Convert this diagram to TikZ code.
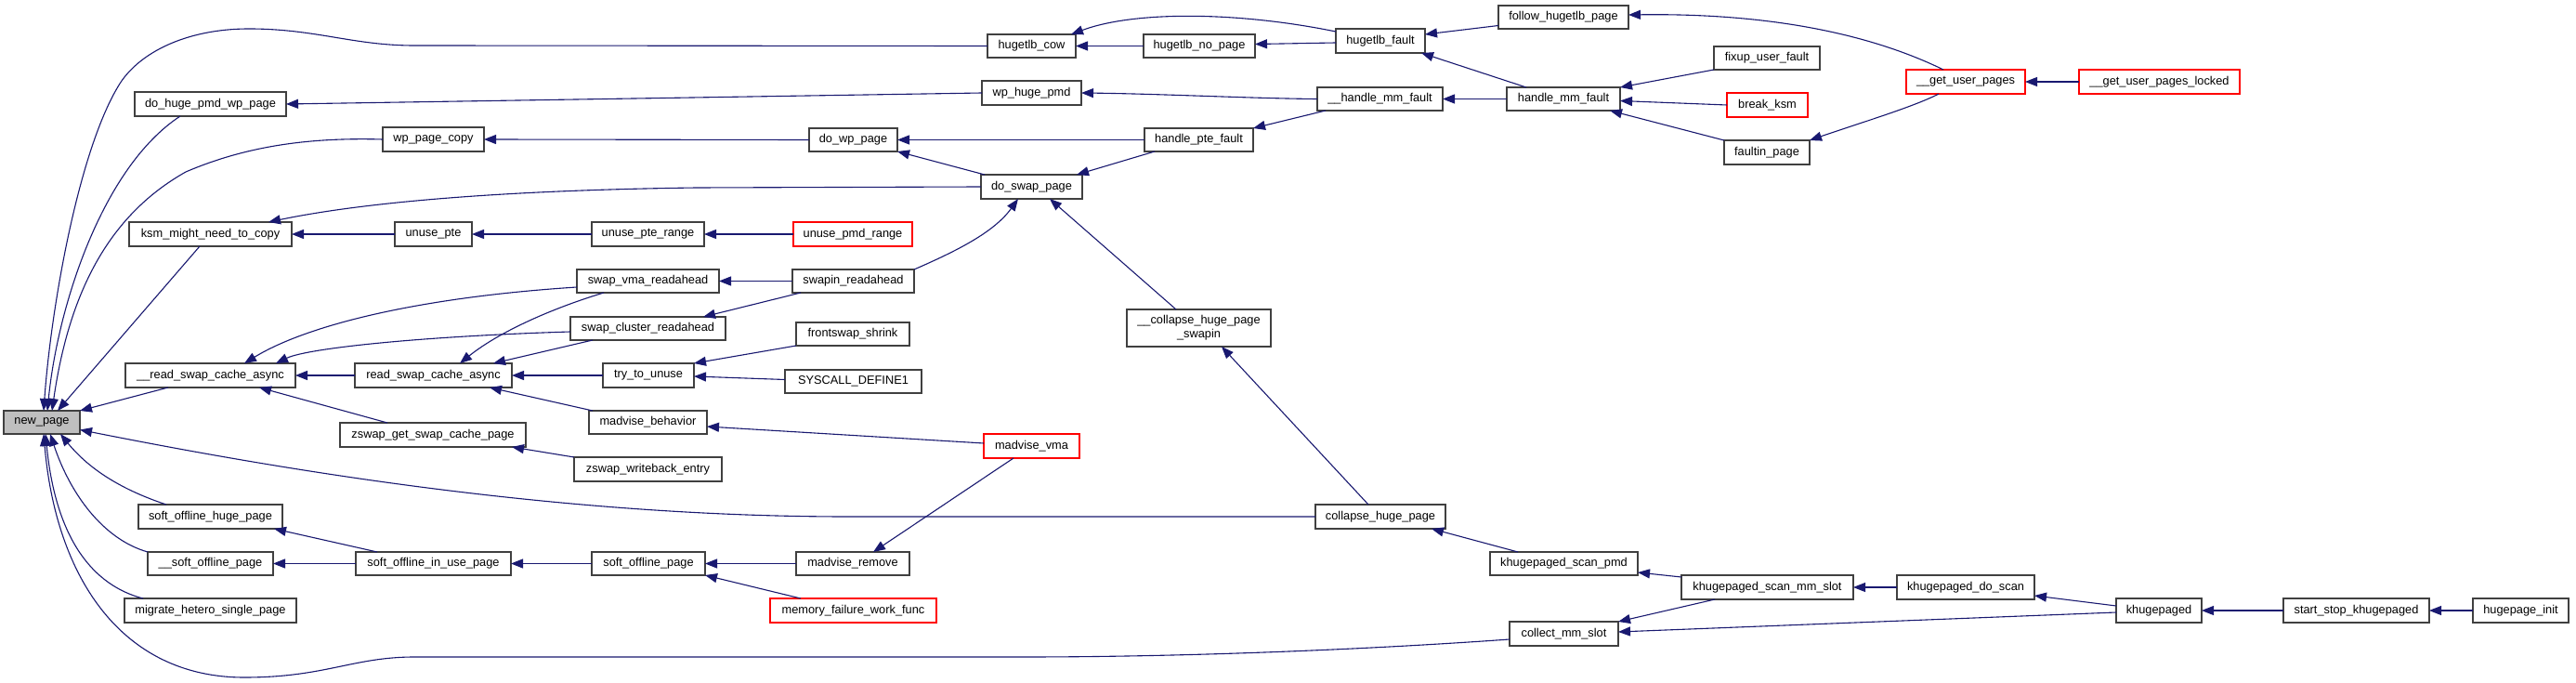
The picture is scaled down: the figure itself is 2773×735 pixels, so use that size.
\documentclass[tikz,border=0pt]{standalone}
\usepackage{fontspec}
\setmainfont{Liberation Sans}
\usetikzlibrary{arrows.meta,calc}
\definecolor{edgec}{HTML}{191970}
\definecolor{boxc}{HTML}{404040}
\definecolor{fillg}{HTML}{BFBFBF}
\tikzset{
 box/.style={draw=boxc, line width=1.2pt, fill=white, inner sep=0pt, outer sep=0pt, font=\fontsize{12.8}{15}\selectfont, align=center},
 redbox/.style={draw=red},
 rootbox/.style={fill=fillg},
 call/.style={draw=edgec, line width=1.1pt, {Triangle[length=13pt,width=10pt]}-}
}
\newcommand{\nbox}[7][]{\node[box,#1,minimum width={(#5-#3)*1pt},minimum height={(#6-#4)*1pt}] (#2) at ({(#3+#5)/2},{(#4+#6)/2}) {#7};}
\begin{document}
\begin{tikzpicture}[x=1pt,y=-1pt]
\fill[white] (0,0) rectangle (2773,735);
\useasboundingbox (0,0) rectangle (2773,735);
% nodes
\nbox[rootbox]{newpage}{4}{442}{86}{467}{new\_page}
\nbox{hcow}{1063}{37}{1158}{62}{hugetlb\_cow}
\nbox{hnopage}{1231}{37}{1351}{62}{hugetlb\_no\_page}
\nbox{hfault}{1438}{31}{1534}{57}{hugetlb\_fault}
\nbox{follow}{1613}{6}{1753}{31}{follow\_hugetlb\_page}
\nbox{fixup}{1845}{50}{1959}{75}{fixup\_user\_fault}
\nbox{hmmf}{1622}{94}{1744}{119}{handle\_mm\_fault}
\nbox{uhmmf}{1418}{94}{1553}{119}{\_\_handle\_mm\_fault}
\nbox[redbox]{breakksm}{1859}{100}{1946}{126}{break\_ksm}
\nbox{faultin}{1856}{151}{1948}{177}{faultin\_page}
\nbox[redbox]{gup}{2052}{75}{2180}{101}{\_\_get\_user\_pages}
\nbox[redbox]{gupl}{2238}{75}{2411}{101}{\_\_get\_user\_pages\_locked}
\nbox{dohuge}{145}{99}{308}{125}{do\_huge\_pmd\_wp\_page}
\nbox{wphuge}{1057}{87}{1164}{113}{wp\_huge\_pmd}
\nbox{wpcopy}{412}{137}{521}{163}{wp\_page\_copy}
\nbox{dowp}{871}{138}{966}{163}{do\_wp\_page}
\nbox{hpte}{1232}{138}{1349}{163}{handle\_pte\_fault}
\nbox{doswap}{1056}{188}{1165}{214}{do\_swap\_page}
\nbox{ksm}{139}{239}{314}{265}{ksm\_might\_need\_to\_copy}
\nbox{unpte}{425}{239}{508}{265}{unuse\_pte}
\nbox{unpter}{637}{239}{758}{265}{unuse\_pte\_range}
\nbox[redbox]{unpmd}{854}{239}{982}{265}{unuse\_pmd\_range}
\nbox{svma}{621}{290}{774}{315}{swap\_vma\_readahead}
\nbox{swapin}{853}{290}{984}{315}{swapin\_readahead}
\nbox{scluster}{614}{341}{781}{366}{swap\_cluster\_readahead}
\nbox{frontswap}{857}{347}{979}{372}{frontswap\_shrink}
\nbox{ucollapse}{1213}{333}{1368}{373}{\_\_collapse\_huge\_page\\\_swapin}
\nbox{uread}{135}{391}{318}{417}{\_\_read\_swap\_cache\_async}
\nbox{read}{382}{391}{551}{417}{read\_swap\_cache\_async}
\nbox{tryun}{649}{391}{747}{417}{try\_to\_unuse}
\nbox{syscall}{845}{398}{992}{423}{SYSCALL\_DEFINE1}
\nbox{madvb}{634}{442}{761}{467}{madvise\_behavior}
\nbox{zswapget}{366}{455}{566}{481}{zswap\_get\_swap\_cache\_page}
\nbox{zswapwb}{618}{492}{777}{518}{zswap\_writeback\_entry}
\nbox[redbox]{madvvma}{1059}{467}{1162}{493}{madvise\_vma}
\nbox{sohp}{149}{543}{304}{569}{soft\_offline\_huge\_page}
\nbox{collapse}{1416}{543}{1556}{569}{collapse\_huge\_page}
\nbox{usop}{159}{594}{294}{619}{\_\_soft\_offline\_page}
\nbox{soiup}{383}{594}{550}{619}{soft\_offline\_in\_use\_page}
\nbox{sop}{637}{594}{759}{619}{soft\_offline\_page}
\nbox{madvrm}{857}{594}{979}{619}{madvise\_remove}
\nbox{kscanpmd}{1604}{594}{1763}{619}{khugepaged\_scan\_pmd}
\nbox{kscanmm}{1810}{619}{1995}{645}{khugepaged\_scan\_mm\_slot}
\nbox{kdoscan}{2042}{619}{2190}{645}{khugepaged\_do\_scan}
\nbox{migrate}{134}{644}{319}{670}{migrate\_hetero\_single\_page}
\nbox[redbox]{mfwf}{829}{644}{1008}{670}{memory\_failure\_work\_func}
\nbox{collect}{1625}{669}{1742}{695}{collect\_mm\_slot}
\nbox{khp}{2278}{644}{2370}{670}{khugepaged}
\nbox{startstop}{2458}{644}{2615}{670}{start\_stop\_khugepaged}
\nbox{hpinit}{2662}{644}{2765}{670}{hugepage\_init}
% edges into new_page
\draw[call] ($(newpage.north west)+(43,0)$) .. controls (55,330) and (85,160) .. (129,90) .. controls (150,57) and (200,31) .. (268,31) .. controls (340,31) and (380,49) .. (446,49) -- (hcow.west);
\draw[call] ($(newpage.north west)+(47,0)$) .. controls (62,330) and (110,180) .. ($(dohuge.south west)+(49,0)$);
\draw[call] ($(newpage.north west)+(52,0)$) .. controls (75,310) and (120,230) .. (200,185) .. controls (270,155) and (340,148) .. (wpcopy.west);
\draw[call] ($(newpage.north west)+(58,0)$) -- ($(ksm.south west)+(76,0)$);
\draw[call] (newpage.north east) -- ($(uread.south west)+(46,0)$);
\draw[call] ($(newpage.east)+(0,8)$) .. controls (300,505) and (600,556) .. (913,556) -- (collapse.west);
\draw[call] ($(newpage.south west)+(61,0)$) .. controls (100,510) and (140,530) .. ($(sohp.north west)+(30,0)$);
\draw[call] ($(newpage.south west)+(50,0)$) .. controls (75,530) and (110,580) .. (usop.north west);
\draw[call] ($(newpage.south west)+(45,0)$) .. controls (60,580) and (100,630) .. ($(migrate.north west)+(20,0)$);
\draw[call] ($(newpage.south west)+(43,0)$) .. controls (60,620) and (130,729) .. (263,729) .. controls (350,729) and (380,707) .. (446,707) -- (1100,707) .. controls (1300,707) and (1500,697) .. ($(collect.west)+(0,6)$);
% upper part
\draw[call] (hcow.east) -- (hnopage.west);
\draw[call] ($(hcow.north east)+(-5,0)$) .. controls (1220,12) and (1330,12) .. ($(hfault.north west)+(0,3)$);
\draw[call] ($(hnopage.east)+(0,-2)$) -- ($(hfault.west)+(0,2)$);
\draw[call] ($(hfault.east)+(0,-7)$) -- ($(follow.west)+(0,9)$);
\draw[call] ($(hfault.south east)+(-4,0)$) -- ($(hmmf.north west)+(21,0)$);
\draw[call] (uhmmf.east) -- (hmmf.west);
\draw[call] (hmmf.north east) -- (fixup.south west);
\draw[call] ($(hmmf.east)+(0,2)$) -- (breakksm.west);
\draw[call] ($(hmmf.south east)+(-11,0)$) -- (faultin.north west);
\draw[call] ($(follow.east)+(0,-2.5)$) .. controls (1900,14) and (2010,35) .. ($(gup.north west)+(40,0)$);
\draw[call] (faultin.north east) .. controls (2000,133) and (2060,115) .. ($(gup.south west)+(35,0)$);
\draw[call] (gup.east) -- (gupl.west);
\draw[call] (wphuge.east) .. controls (1250,101) and (1350,106) .. (uhmmf.west);
\draw[call] (hpte.north east) -- ($(uhmmf.south west)+(9,0)$);
\draw[call] (dowp.east) -- (hpte.west);
\draw[call] ($(doswap.north east)+(-6,0)$) -- ($(hpte.south west)+(11,0)$);
\draw[call] (dowp.south east) -- ($(doswap.north west)+(4,0)$);
\draw[call] (wpcopy.east) -- (dowp.west);
\draw[call] (dohuge.east) -- (wphuge.west);
\draw[call] ($(ksm.north west)+(150,0)$) .. controls (380,220) and (520,205) .. (750,202) -- (doswap.west);
\draw[call] (ksm.east) -- (unpte.west);
\draw[call] (unpte.east) -- (unpter.west);
\draw[call] (unpter.east) -- (unpmd.west);
\draw[call] ($(doswap.south west)+(40,0)$) .. controls (1070,250) and (1030,270) .. (swapin.north east);
\draw[call] ($(doswap.south west)+(74,0)$) -- ($(ucollapse.north west)+(53,0)$);
\draw[call] ($(ucollapse.south west)+(102,0)$) -- ($(collapse.north west)+(57,0)$);
% swap part
\draw[call] (svma.east) -- (swapin.west);
\draw[call] ($(scluster.north east)+(-24,0)$) -- ($(swapin.south west)+(9,0)$);
\draw[call] ($(uread.north west)+(128,0)$) .. controls (330,350) and (450,320) .. ($(svma.west)+(0,6.5)$);
\draw[call] ($(uread.north west)+(162,0)$) .. controls (330,375) and (450,362) .. ($(scluster.west)+(0,3.5)$);
\draw[call] ($(read.north west)+(113,0)$) .. controls (540,355) and (600,330) .. ($(svma.south west)+(29,0)$);
\draw[call] ($(read.north west)+(149,0)$) -- ($(scluster.south west)+(24,0)$);
\draw[call] (uread.east) -- (read.west);
\draw[call] (read.east) -- (tryun.west);
\draw[call] (tryun.north east) -- (frontswap.south west);
\draw[call] ($(tryun.east)+(0,1)$) -- ($(syscall.west)+(0,-2)$);
\draw[call] ($(read.south west)+(145,0)$) -- ($(madvb.north west)+(4,0)$);
\draw[call] ($(madvb.east)+(0,4.5)$) -- ($(madvvma.west)+(0,-3)$);
\draw[call] ($(uread.south west)+(144,0)$) -- ($(zswapget.north west)+(51,0)$);
\draw[call] ($(zswapget.south west)+(185,0)$) -- (zswapwb.north west);
% lower part
\draw[call] ($(madvrm.north west)+(83,0)$) -- ($(madvvma.south west)+(32,0)$);
\draw[call] (sop.east) -- (madvrm.west);
\draw[call] (sop.south east) -- ($(mfwf.north west)+(33,0)$);
\draw[call] (soiup.east) -- (sop.west);
\draw[call] (usop.east) -- (soiup.west);
\draw[call] ($(sohp.south east)+(-9,0)$) -- ($(soiup.north west)+(23,0)$);
\draw[call] ($(collapse.south east)+(-15,0)$) -- ($(kscanpmd.north west)+(30,0)$);
\draw[call] ($(kscanpmd.east)+(0,9.5)$) -- ($(kscanmm.north west)+(0,2)$);
\draw[call] (collect.north east) -- ($(kscanmm.south west)+(36,0)$);
\draw[call] (kscanmm.east) -- (kdoscan.west);
\draw[call] ($(kdoscan.east)+(0,9)$) -- ($(khp.west)+(0,-5)$);
\draw[call] ($(collect.east)+(0,-2)$) -- ($(khp.west)+(0,2)$);
\draw[call] (khp.east) -- (startstop.west);
\draw[call] (startstop.east) -- (hpinit.west);
\end{tikzpicture}
\end{document}
